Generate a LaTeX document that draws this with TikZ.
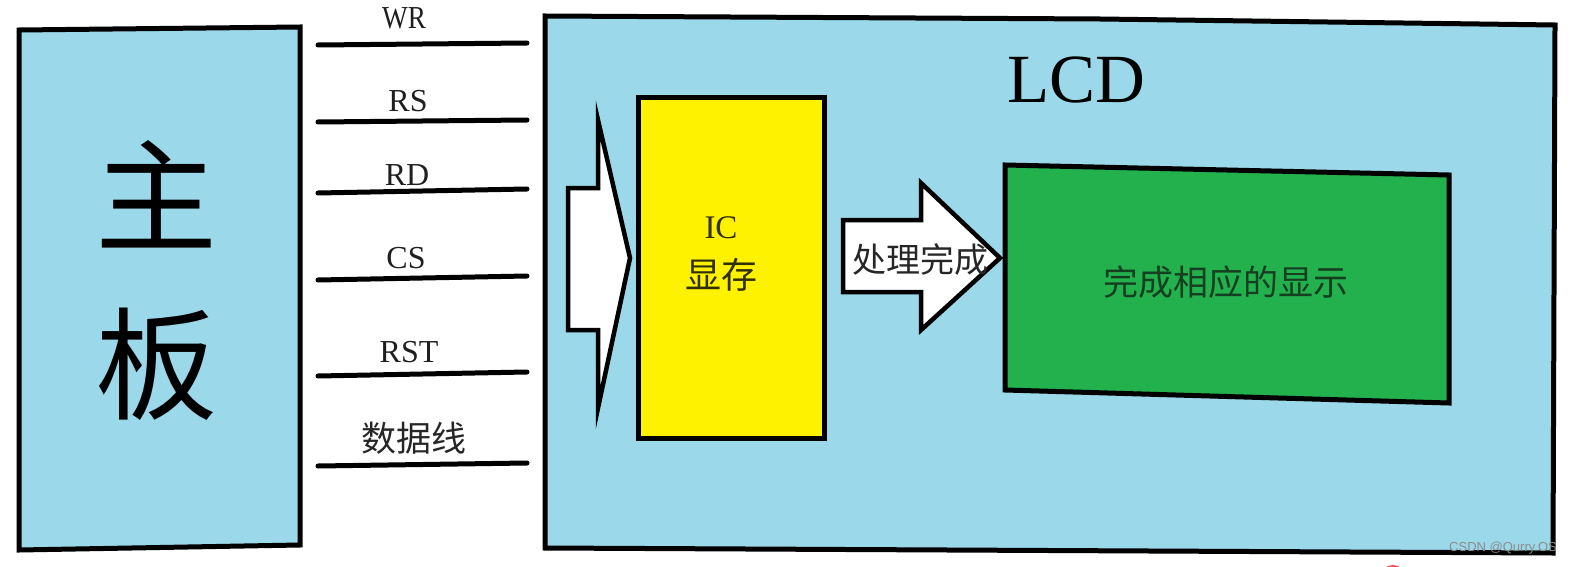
\documentclass[tikz,border=0pt]{standalone}
\usepackage{fontspec}
\setmainfont{Liberation Serif}
\newfontfamily\cjk{Noto Sans CJK SC}
\newfontfamily\wmfont{Liberation Sans}
\definecolor{skyb}{RGB}{155,216,234}
\definecolor{ylw}{RGB}{255,242,0}
\definecolor{grn}{RGB}{34,177,76}
\definecolor{grntext}{RGB}{22,62,32}
\definecolor{ylwtext}{RGB}{50,48,10}
\tikzset{
  boxline/.style={draw=black, line width=5pt, line join=miter},
  sigline/.style={draw=black, line width=5pt, line cap=round},
  siglabel/.style={inner sep=0pt, text=black!88, font=\fontsize{32}{32}\selectfont},
  cjklabel/.style={inner sep=0pt, text=black!85, font=\cjk\fontsize{35}{35}\selectfont},
  bigarrow/.style={draw=black, fill=white, line width=4.5pt, line join=miter},
}
\begin{document}
\begin{tikzpicture}[x=1pt,y=-1pt]
\useasboundingbox (0,0) rectangle (1573,567);
\fill[white] (0,0) rectangle (1573,567);

% main board
\draw[boxline, fill=skyb] (19,30) -- (300,27) -- (300,545) -- (19,550) -- cycle;
\node[inner sep=0pt, font=\cjk\fontsize{122}{122}\selectfont] (zhu) at (156,194) {主};
\node[inner sep=0pt, font=\cjk\fontsize{122}{122}\selectfont] (ban) at (156,364) {板};

% signal lines
\coordinate (wrA) at (318,45);  \coordinate (wrB) at (527,43);
\coordinate (rsA) at (318,122); \coordinate (rsB) at (527,120);
\coordinate (rdA) at (318,193); \coordinate (rdB) at (527,189);
\coordinate (csA) at (318,280); \coordinate (csB) at (527,276);
\coordinate (rstA) at (318,376); \coordinate (rstB) at (527,372);
\coordinate (dataA) at (318,466); \coordinate (dataB) at (527,463);
\draw[sigline] (wrA) -- (wrB);
\draw[sigline] (rsA) -- (rsB);
\draw[sigline] (rdA) -- (rdB);
\draw[sigline] (csA) -- (csB);
\draw[sigline] (rstA) -- (rstB);
\draw[sigline] (dataA) -- (dataB);
\node[siglabel, xscale=0.85] (wr) at (404,18) {WR};
\node[siglabel] (rs) at (408,101) {RS};
\node[siglabel] (rd) at (407,175) {RD};
\node[siglabel] (cs) at (406,258) {CS};
\node[siglabel] (rst) at (409,352) {RST};
\node[cjklabel] (data) at (414,438) {数据线};

% LCD
\draw[boxline, fill=skyb] (545,16) -- (1100,19) -- (1555,25) -- (1553,553) -- (545,548) -- cycle;
\node[inner sep=0pt, font=\fontsize{69}{69}\selectfont] (lcd) at (1076,80) {LCD};

% input arrow
\draw[bigarrow] (568,188) -- (598,188) -- (598,120) -- (630,258) -- (598,408) -- (598,330) -- (568,330) -- cycle;

% IC memory
\draw[boxline, fill=ylw] (638,98) rectangle (824,438);
\node[inner sep=0pt, text=ylwtext, font=\fontsize{33}{33}\selectfont] (ic) at (721,228) {IC};
\node[inner sep=0pt, text=ylwtext, font=\cjk\fontsize{36}{36}\selectfont] (mem) at (721,275) {显存};

% processing arrow
\draw[bigarrow] (843,220) -- (921,220) -- (921,183) -- (1000,258) -- (921,330) -- (921,292) -- (843,292) -- cycle;
\node[inner sep=0pt, text=black!85, font=\cjk\fontsize{34}{34}\selectfont] (proc) at (920,260) {处理完成};

% display
\draw[boxline, fill=grn] (1005,165) -- (1449,175) -- (1449,403) -- (1005,390) -- cycle;
\node[inner sep=0pt, text=grntext, font=\cjk\fontsize{35}{35}\selectfont] (disp) at (1226,282) {完成相应的显示};

% watermark
\node[inner sep=0pt, text=black!45, font=\wmfont\fontsize{13}{13}\selectfont] (wm) at (1503,548) {CSDN @Qurry.OS};
\fill[red!70!white] (1393,578) circle (13);
\end{tikzpicture}
\end{document}
